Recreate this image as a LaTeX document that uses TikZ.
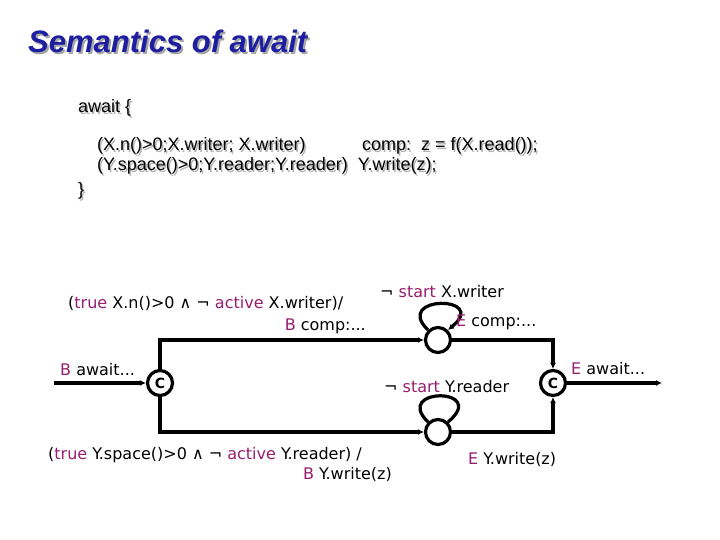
\documentclass[tikz,border=0pt]{standalone}
\usepackage{fontspec}
\setmainfont{DejaVu Sans}
\newfontfamily\arialf{Liberation Sans}
\usetikzlibrary{arrows.meta}
\definecolor{mag}{RGB}{150,30,110}
\definecolor{ttl}{RGB}{30,30,160}
\begin{document}
\begin{tikzpicture}[x=1pt,y=-1pt,
  lbl/.style={font=\fontsize{16}{18}\selectfont,inner sep=0pt},
  code/.style={font=\arialf\fontsize{18}{20}\selectfont,inner sep=0pt,anchor=base west},
  st/.style={draw,line width=3.2pt,circle,minimum size=25pt,inner sep=0pt,font=\bfseries\fontsize{14}{14}\selectfont},
  wire/.style={line width=3.2pt,-{Latex[length=6pt,width=6pt]}}]
\useasboundingbox (0,0) rectangle (720,540);
% title
\node[anchor=base west,inner sep=0pt,gray!70,font=\arialf\bfseries\itshape\fontsize{31}{33}\selectfont] at (30,55) {Semantics of await};
\node[anchor=base west,inner sep=0pt,ttl,font=\arialf\bfseries\itshape\fontsize{31}{33}\selectfont] (title) at (28,53) {Semantics of await};
% code with shadow
\foreach \c/\d in {gray!60/1.5,black/0}{
 \node[code,\c] at (78+\d,113+\d) {await \{};
 \node[code,\c] at (97+\d,151+\d) {(X.n()>0;X.writer; X.writer)};
 \node[code,\c] at (362+\d,151+\d) {comp:\ \ z = f(X.read());};
 \node[code,\c] at (97+\d,171+\d) {(Y.space()>0;Y.reader;Y.reader)\ \ Y.write(z);};
 \node[code,\c] at (78+\d,196+\d) {\}};
}
% states
\coordinate (in) at (54,383);
\node[st] (c1) at (160,383) {C};
\node[st] (c2) at (553,383) {C};
\node[st] (s1) at (438,340) {};
\node[st] (s2) at (438,432) {};
\coordinate (out) at (662,383);
\draw[wire] (in) -- (c1);
\draw[wire] (c1.north) |- (s1);
\draw[wire] (c1.south) |- (s2);
\draw[wire] (s1) -| (c2.north);
\draw[wire] (s2) -| (c2.south);
\draw[wire] (c2) -- (out);
\draw[wire] (s1.north west) .. controls (392,295) and (490,295) .. (s1.north east);
\draw[line width=3.2pt] (s2.north west) .. controls (392,387) and (490,387) .. (s2.north east);
% labels
\node[lbl,anchor=base west] (l1) at (68,308) {(\textcolor{mag}{true} X.n()>0 ∧ ¬ \textcolor{mag}{active} X.writer)/};
\node[lbl,anchor=base east] (l2) at (366,330) {\textcolor{mag}{B} comp:...};
\node[lbl,anchor=base west] (l3) at (380,297) {¬ \textcolor{mag}{start} X.writer};
\node[lbl,anchor=base west] (l4) at (456,326) {\textcolor{mag}{E} comp:...};
\node[lbl,anchor=base west] (l5) at (60,375) {\textcolor{mag}{B} await...};
\node[lbl,anchor=base west] (l6) at (384,392) {¬ \textcolor{mag}{start} Y.reader};
\node[lbl,anchor=base west] (l7) at (571,374) {\textcolor{mag}{E} await...};
\node[lbl,anchor=base west] (l8) at (48,459) {(\textcolor{mag}{true} Y.space()>0 ∧ ¬ \textcolor{mag}{active} Y.reader) /};
\node[lbl,anchor=base east] (l9) at (392,479) {\textcolor{mag}{B} Y.write(z)};
\node[lbl,anchor=base west] (l10) at (468,464) {\textcolor{mag}{E} Y.write(z)};
\end{tikzpicture}
\end{document}
